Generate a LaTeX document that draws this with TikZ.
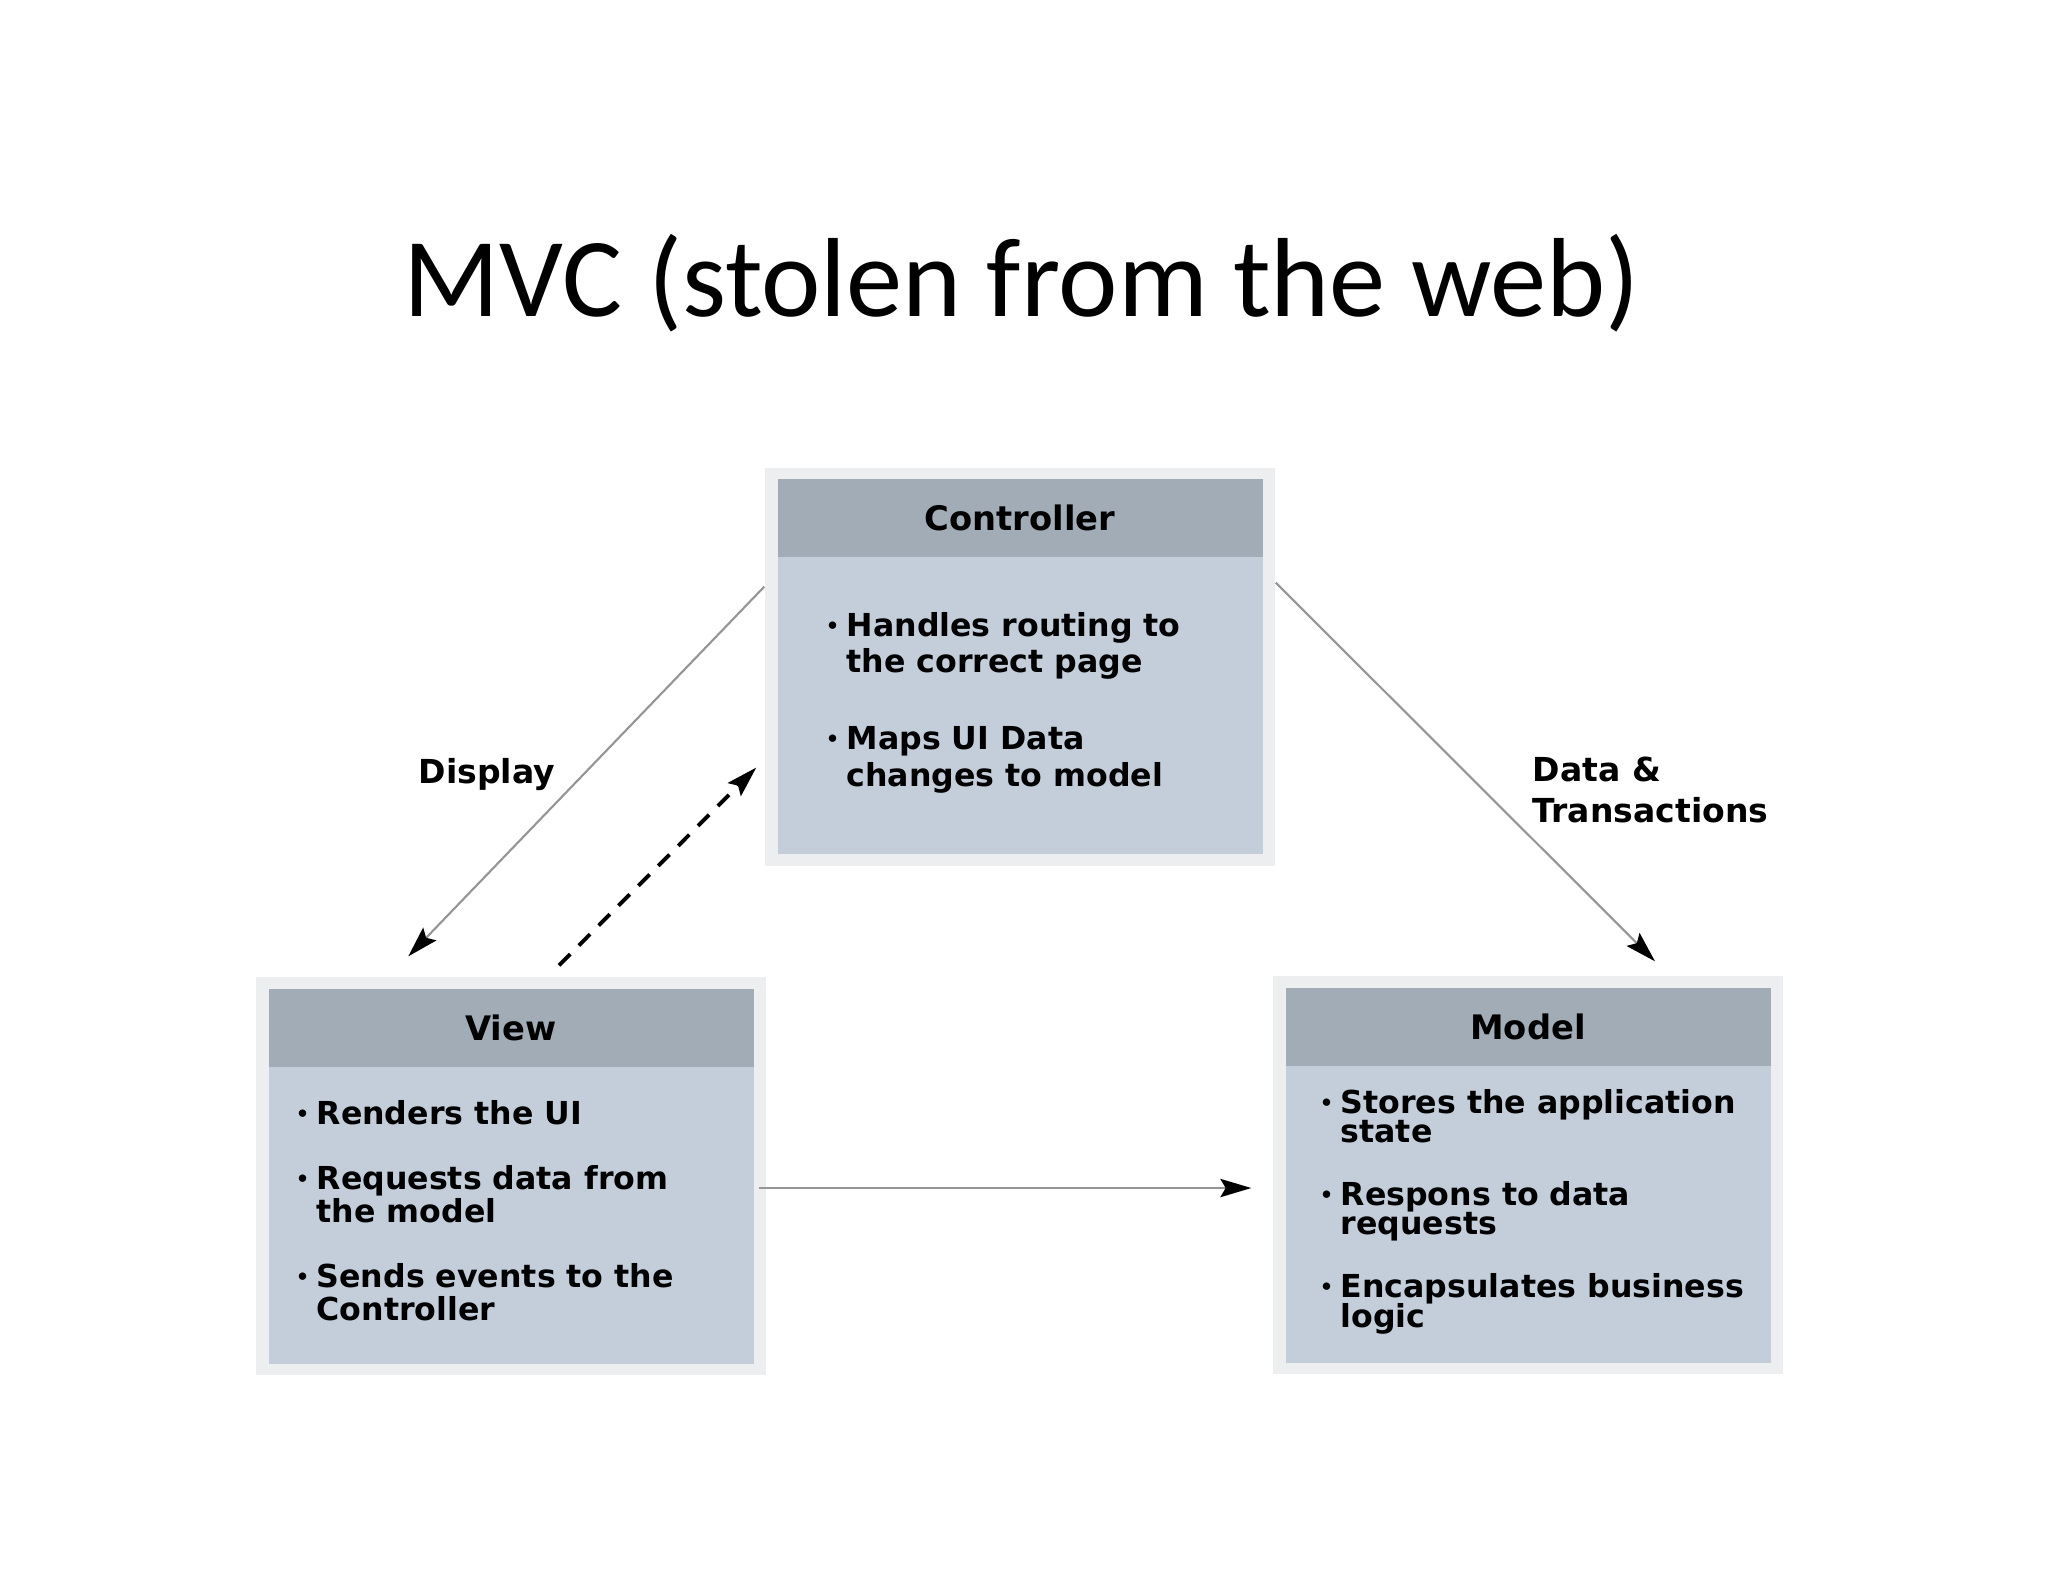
\documentclass[tikz,border=0pt]{standalone}
\usepackage{fontspec}
\setmainfont{DejaVu Sans}
\newfontfamily\titlefont{Carlito}
\usepackage{tikz}
\usetikzlibrary{arrows.meta,positioning,calc}
\definecolor{headgray}{HTML}{A2ACB7}
\definecolor{bodyblue}{HTML}{C4CDDA}
\definecolor{framegray}{HTML}{ECEEEF}
\definecolor{linegray}{HTML}{959595}
\newcommand{\bitem}[1]{\par\hangindent=6.3pt\hangafter=1\noindent
  \makebox[6.3pt][l]{\hspace{0.4pt}\raisebox{0.9pt}{\fontsize{6}{6}\selectfont\textbullet}}#1}
\newcommand{\blist}[3]{\parbox[t]{46mm}{\fontsize{9}{#1}\selectfont\lineskiplimit=-10pt\parskip=#2\relax #3}}

\begin{document}
\begin{tikzpicture}[x=0.1mm, y=-0.1mm, font=\bfseries,
  boxframe/.style={fill=framegray, minimum width=51mm, minimum height=39.8mm, inner sep=0},
  boxbody/.style={fill=bodyblue, minimum width=48.5mm, minimum height=37.5mm, inner sep=0},
  boxhead/.style={fill=headgray, minimum width=48.5mm, minimum height=7.8mm, inner sep=0,
    font=\bfseries\fontsize{9.6}{11}\selectfont},
  items/.style={anchor=base west, inner sep=0},
  lbl/.style={anchor=base west, inner sep=0, font=\bfseries\fontsize{9.4}{11.9}\selectfont},
  conn/.style={draw=linegray, line width=0.6pt,
    -{Stealth[length=8.8pt, width=5.2pt, inset=1.5pt, color=black]}},
  evt/.style={draw=black, line width=1.1pt, dash pattern=on 4.5pt off 3.5pt,
    -{Stealth[length=8.8pt, width=5.2pt, inset=1.5pt]}}]
\path[use as bounding box, fill=white] (0,0) rectangle (2048,1582);

\node[font=\titlefont\fontsize{32}{38}\selectfont, anchor=base] (title) at (1022,316) {MVC (stolen from the web)};

% the three boxes
\node[boxframe] (ctrlframe) at (1020,666.5) {};
\node[boxbody] (ctrl) at (ctrlframe.center) {};
\node[boxhead, anchor=north] (ctrlhead) at (ctrl.north) {Controller};
\node[items] (ctrlitems) at ([xshift=4.7mm, yshift=-15.8mm]ctrl.north west)
  {\blist{10.4pt}{11.5pt}{\bitem{Handles routing to\\the correct page}\bitem{Maps UI Data\\changes to model}}};

\node[boxframe] (viewframe) at (511,1176) {};
\node[boxbody] (view) at (viewframe.center) {};
\node[boxhead, anchor=north] (viewhead) at (view.north) {View};
\node[items] (viewitems) at ([xshift=2.6mm, yshift=-13.7mm]view.north west)
  {\blist{9.4pt}{9.1pt}{\bitem{Renders the UI}\bitem{Requests data from\\the model}\bitem{Sends events to the\\Controller}}};

\node[boxframe] (modelframe) at (1528,1175) {};
\node[boxbody] (model) at (modelframe.center) {};
\node[boxhead, anchor=north] (modelhead) at (model.north) {Model};
\node[items] (modelitems) at ([xshift=3.3mm, yshift=-12.65mm]model.north west)
  {\blist{8.4pt}{9.4pt}{\bitem{Stores the application\\state}\bitem{Respons to data\\requests}\bitem{Encapsulates business\\logic}}};

% labels
\node[lbl] (displaylbl) at (418,783) {Display};
\node[lbl] (datalbl) at (1532,781) {\begin{tabular}[t]{@{}l@{}}Data \&\\Transactions\end{tabular}};

% connectors
\coordinate (viewtop) at ([xshift=15.3mm, yshift=2mm]viewframe.north west);
\coordinate (evtfrom) at ([xshift=4.8mm, yshift=1.1mm]viewframe.north);
\coordinate (ctrlside) at ([xshift=-0.8mm, yshift=-10.1mm]ctrlframe.west);
\coordinate (modeltop) at ([xshift=12.7mm, yshift=1.4mm]modelframe.north);
\coordinate (viewside) at ([xshift=-0.8mm, yshift=-1.2mm]viewframe.east);
\coordinate (modelside) at ([xshift=-2.1mm, yshift=-1.3mm]modelframe.west);
\draw[conn] ($(ctrlframe.north west)!0.3!(ctrlframe.south west)$) -- (viewtop);
\draw[evt] (evtfrom) -- (ctrlside);
\draw[conn] ($(ctrlframe.north east)!0.29!(ctrlframe.south east)$) -- (modeltop);
\draw[conn] (viewside) -- (modelside);
\end{tikzpicture}
\end{document}
